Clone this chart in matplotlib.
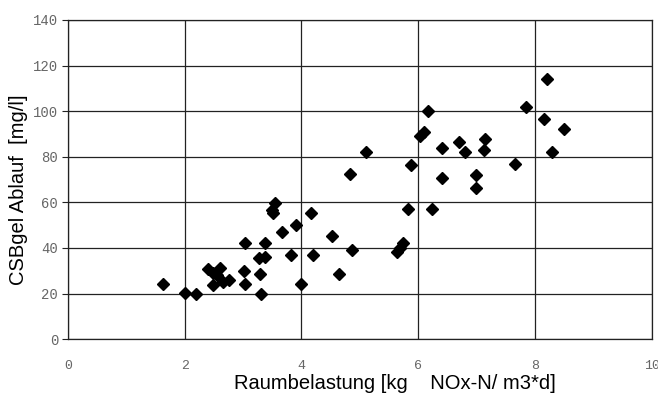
import matplotlib
matplotlib.use("Agg")
from matplotlib import pyplot as plt

# Raumbelastung [kg NOx-N / m3*d]
belastung = [1.63, 2.01, 2.19, 2.40, 2.49, 2.55, 2.60, 2.49, 2.65, 2.76,
             3.04, 3.01, 3.03, 3.29, 3.31, 3.28, 3.38, 3.38, 3.49, 3.54,
             3.52, 3.66, 3.82, 3.90, 4.00, 4.17, 4.20, 4.53, 4.65, 4.86,
             4.83, 5.10, 5.63, 5.68, 5.73, 5.83, 5.87, 6.03, 6.10, 6.17,
             6.24, 6.40, 6.40, 6.70, 6.79, 6.99, 6.99, 7.14, 7.12, 7.66,
             7.85, 8.15, 8.20, 8.28, 8.49]
# CSBgel Ablauf [mg/l]
csb = [24.4, 20.3, 19.6, 30.6, 29.0, 28.0, 31.0, 23.7, 25.0, 26.0,
       42.2, 29.8, 24.4, 28.4, 20.0, 35.4, 36.0, 42.2, 56.6, 59.5,
       55.4, 47.0, 37.1, 50.0, 24.4, 55.4, 37.1, 45.3, 28.4, 39.3,
       72.5, 82.3, 38.3, 40.0, 42.0, 56.9, 76.5, 89.0, 91.0, 100.0,
       56.9, 84.0, 70.5, 86.5, 82.0, 72.0, 66.5, 88.0, 82.8, 77.0,
       102.0, 96.5, 114.0, 82.0, 92.0]

x_ticks = [0, 2, 4, 6, 8, 10]
y_ticks = [0, 20, 40, 60, 80, 100, 120, 140]

fig = plt.figure(figsize=(6.58, 3.99), dpi=100)
ax = fig.add_axes([0.103, 0.15, 0.888, 0.80])

ax.plot(belastung, csb, linestyle="none", marker="D", markersize=6.3,
        color="black", zorder=3)

ax.set_xlim(0, 10)
ax.set_ylim(0, 140)
ax.set_xticks(x_ticks)
ax.set_yticks(y_ticks)
ax.grid(True, color="#222222", linewidth=0.9)
for s in ax.spines.values():
    s.set_color("#222222")
    s.set_linewidth(0.9)

ax.tick_params(axis="x", length=0, pad=15, labelsize=9.5, labelcolor="#666666")
ax.tick_params(axis="y", length=4, pad=3, labelsize=10, labelcolor="#666666",
               color="#222222")
for lab in ax.get_xticklabels() + ax.get_yticklabels():
    lab.set_family("Liberation Mono")

ax.set_xlabel("Raumbelastung [kg    NOx-N/ m3*d]", fontsize=14.5,
              family="Liberation Sans")
ax.set_ylabel("CSBgel Ablauf  [mg/l]", fontsize=14.5,
              family="Liberation Sans")
ax.xaxis.set_label_coords(0.56, -0.11)
ax.yaxis.set_label_coords(-0.068, 0.467)

fig.savefig("out.png", dpi=100)
